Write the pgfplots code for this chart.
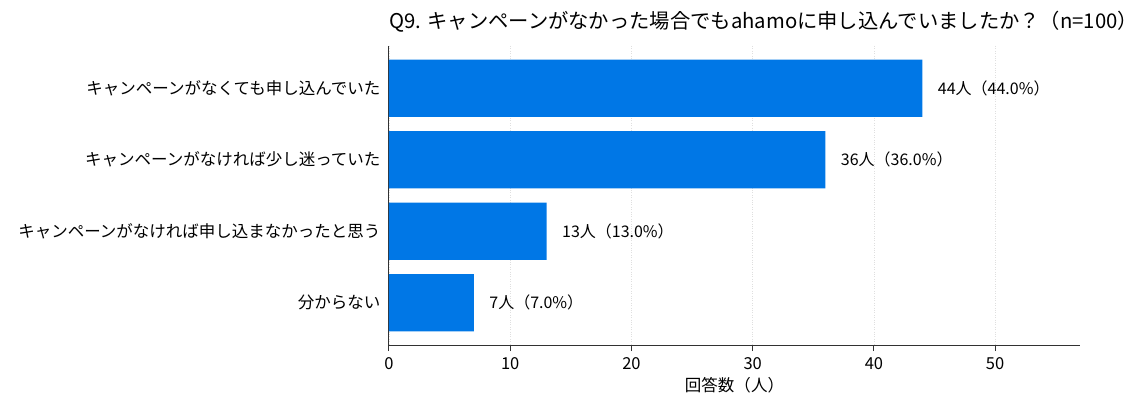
\documentclass[border=0pt]{standalone}
\usepackage{fontspec}
\setmainfont{Noto Sans CJK JP}
\usepackage{pgfplots}
\pgfplotsset{compat=1.18}

\definecolor{barblue}{RGB}{0,119,230}
\definecolor{axgray}{RGB}{50,50,50}

\begin{document}
\begin{tikzpicture}
% fixed canvas: pixel (px,py) -> (px-389, 345-py) in pt
\path[use as bounding box] (-389pt,-58pt) rectangle (759pt,345pt);
\begin{axis}[
    at={(0pt,0pt)}, anchor=south west,
    scale only axis,
    width=691pt, height=299pt,
    xbar,
    bar width=0.8,
    xmin=0, xmax=57,
    ymin=-0.59, ymax=3.59,
    y dir=reverse,
    ytick={0,1,2,3},
    yticklabels={キャンペーンがなくても申し込んでいた,
                 キャンペーンがなければ少し迷っていた,
                 キャンペーンがなければ申し込まなかったと思う,
                 分からない},
    xtick={0,10,20,30,40,50},
    axis x line*=bottom,
    axis y line*=left,
    axis line style={axgray, line width=1pt},
    x axis line style={-},
    y axis line style={-},
    xmajorgrids,
    major grid style={gray!25, dotted, line width=0.6pt},
    tick style={axgray, line width=1pt},
    major tick length=6pt,
    tick align=outside,
    ytick style={draw=none},
    ticklabel style={font=\fontsize{16.5}{19}\selectfont, text=black},
    xticklabel style={yshift=-3pt},
    /pgf/number format/assume math mode=true,
    xlabel={回答数（人）},
    xlabel style={font=\fontsize{16.5}{19}\selectfont, yshift=-1pt},
    yticklabel style={xshift=1pt},
    point meta=explicit symbolic,
    nodes near coords,
    every node near coord/.append style={font=\fontsize{16}{19}\selectfont, text=black, anchor=west, xshift=12pt},
]
\addplot[fill=barblue, draw=none] coordinates {
    (44,0) [44人（44.0\%）]
    (36,1) [36人（36.0\%）]
    (13,2) [13人（13.0\%）]
    (7,3)  [7人（7.0\%）]
};
\end{axis}
\node[anchor=west, font=\fontsize{20.3}{24}\selectfont] at (-3pt,323pt) {Q9. キャンペーンがなかった場合でもahamoに申し込んでいましたか？（n=100）};
\end{tikzpicture}
\end{document}
